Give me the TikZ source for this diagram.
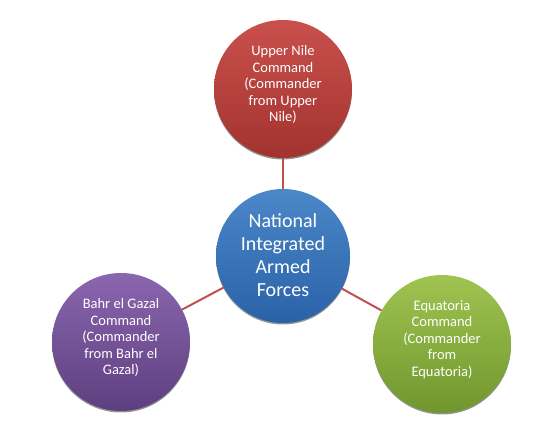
\documentclass[tikz,border=0pt]{standalone}
\usepackage{fontspec}
\setmainfont{Carlito}
\usetikzlibrary{shadows}
\definecolor{nilered}{HTML}{C9504C}
\definecolor{niledark}{HTML}{A2332F}
\definecolor{forceblue}{HTML}{4B87C9}
\definecolor{forcedark}{HTML}{2A62A7}
\definecolor{gazalpurple}{HTML}{8A66AE}
\definecolor{gazaldark}{HTML}{5D3F7F}
\definecolor{equagreen}{HTML}{A0C451}
\definecolor{equadark}{HTML}{70962E}
\definecolor{linkred}{HTML}{C0504D}
\begin{document}
\begin{tikzpicture}[x=1pt,y=1pt,
  cmd/.style={circle, minimum size=138pt, inner sep=0pt, align=center, text=white,
    font=\fontsize{14.5}{16.5}\selectfont, text depth=11pt,
    drop shadow={shadow xshift=0pt, shadow yshift=-1.5pt, fill=black!70, opacity=.6}},
  link/.style={linkred, line width=2pt}]
\useasboundingbox (0,0) rectangle (560,426);
\node[cmd, top color=nilered, bottom color=niledark] (nile) at (283,337){Upper Nile\\Command\\(Commander\\from Upper\\Nile)};
\node[cmd, minimum size=134pt, font=\fontsize{20}{23}\selectfont, text depth=1pt, top color=forceblue, bottom color=forcedark] (nat) at (283,170){National\\Integrated\\Armed\\Forces};
\node[cmd, top color=gazalpurple, bottom color=gazaldark] (gazal) at (121,84){Bahr el Gazal\\Command\\(Commander\\from Bahr el\\Gazal)};
\node[cmd, top color=equagreen, bottom color=equadark] (equa) at (442,82){Equatoria\\Command\\(Commander\\from\\Equatoria)};
\draw[link](nat) -- (nile);
\draw[link](nat) -- (gazal);
\draw[link](nat) -- (equa);
\end{tikzpicture}
\end{document}
